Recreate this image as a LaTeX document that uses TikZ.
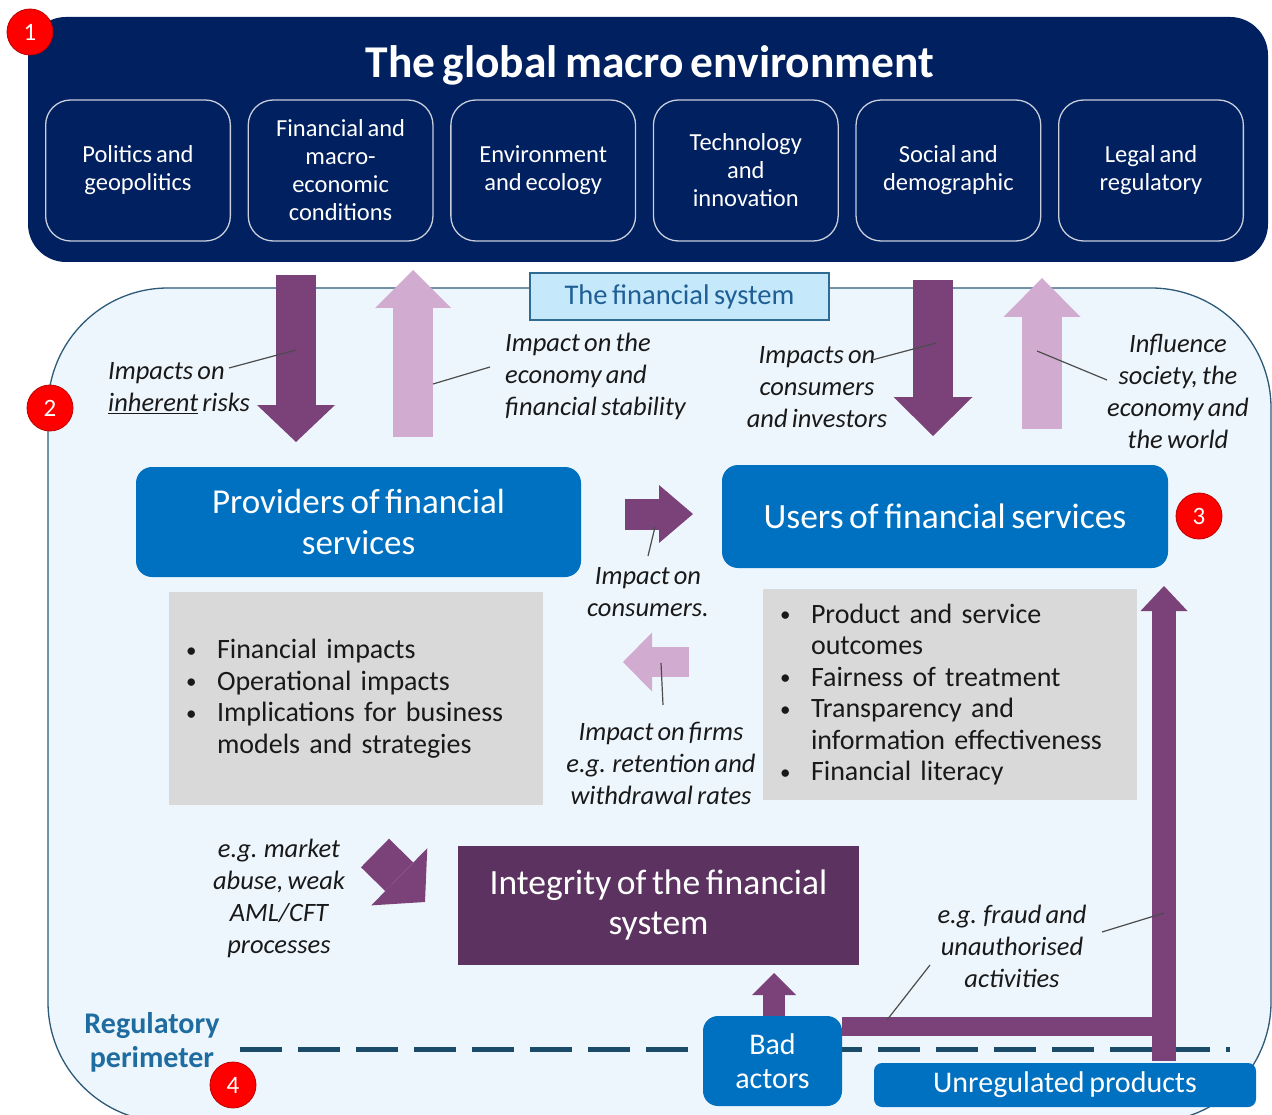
\documentclass[tikz,border=0pt]{standalone}
\usepackage{fontspec}
\setmainfont{Carlito}[WordSpace=0.7]
\usetikzlibrary{arrows.meta,positioning}
\definecolor{envNavy}{HTML}{002060}
\definecolor{cardLine}{HTML}{C9CEDA}
\definecolor{boxBlue}{HTML}{0070C0}
\definecolor{plumDark}{HTML}{7B4279}
\definecolor{plumLight}{HTML}{D2ACD0}
\definecolor{integrityPlum}{HTML}{5C3260}
\definecolor{sysFill}{HTML}{EEF6FD}
\definecolor{sysLine}{HTML}{2D5A78}
\definecolor{tagFill}{HTML}{C5E8FA}
\definecolor{tagLine}{HTML}{2F6B92}
\definecolor{tagText}{HTML}{1F5F95}
\definecolor{boxGray}{HTML}{D9D9D9}
\definecolor{perimBlue}{HTML}{1F6CA0}
\definecolor{dashTeal}{HTML}{1A4C69}
\definecolor{badgeRed}{HTML}{FF0000}
\newcommand{\bitem}[1]{\makebox[31pt][l]{\raisebox{1.5pt}{\scalebox{0.75}{\textbullet}}}#1}
\newcommand{\bcont}[1]{\hspace*{31pt}#1}

\begin{document}
\begin{tikzpicture}[x=1pt,y=-1pt,
    node distance=16.6pt,
    envcard/.style={rectangle, rounded corners=25pt, draw=cardLine, line width=1.3pt,
      text=white, align=center, font=\fontsize{24.5}{28}\selectfont,
      minimum width=184.7pt, minimum height=141pt, inner sep=2pt},
    bluebox/.style={rectangle, rounded corners=16pt, fill=boxBlue, text=white, align=center, inner sep=2pt},
    graybox/.style={rectangle, fill=boxGray, align=left, text width=340pt, inner xsep=17pt,
      font=\fontsize{28}{31.5}\selectfont, text=black!90},
    badge/.style={circle, fill=badgeRed, draw=badgeRed!75!black, line width=0.8pt, text=white,
      font=\fontsize{25}{25}\selectfont, minimum size=46pt, inner sep=0pt},
    note/.style={align=center, font=\fontsize{26.5}{32}\selectfont\itshape, text=black!90, inner sep=0pt},
    leader/.style={draw=black!70, line width=1.2pt},
    fatarrow/.style n args={3}{line width=#1, -{Triangle[width=#2, length=#3, line width=0pt]}}
  ]
  \useasboundingbox (0,0) rectangle (1272,1115);
  \fill[white] (0,0) rectangle (1272,1115);

  % the financial system
  \draw[draw=sysLine, fill=sysFill, line width=1.3pt, rounded corners=120pt] (48,288) rectangle (1271,1122);
  \node[rectangle, fill=tagFill, draw=tagLine, line width=1.3pt, minimum width=299pt, minimum height=47pt,
    text=tagText, font=\fontsize{28.5}{28.5}\selectfont] (tag) at (679.5,296.5) {The financial system};

  % global macro environment
  \fill[envNavy, rounded corners=38pt] (28,17) rectangle (1268,262);
  \node[text=white, font=\fontsize{45.5}{45.5}\selectfont\bfseries] (title) at (650,65) {The global macro environment};
  \node[envcard] (c1) at (138,170.5) {Politics and\\geopolitics};
  \node[envcard, right=of c1] (c2) {Financial and\\macro-\\economic\\conditions};
  \node[envcard, right=of c2] (c3) {Environment\\and ecology};
  \node[envcard, right=of c3] (c4) {Technology\\and\\innovation};
  \node[envcard, right=of c4] (c5) {Social and\\demographic};
  \node[envcard, right=of c5] (c6) {Legal and\\regulatory};

  % big vertical arrows
  \coordinate (dA0) at (296,275);  \coordinate (dA1) at (296,442);
  \coordinate (uA0) at (413,437);  \coordinate (uA1) at (413,270);
  \coordinate (dB0) at (933,280);  \coordinate (dB1) at (933,436);
  \coordinate (uB0) at (1042,429); \coordinate (uB1) at (1042,278);
  \draw[plumDark, fatarrow={40pt}{78pt}{37pt}] (dA0) -- (dA1);
  \draw[plumLight, fatarrow={40pt}{76pt}{38pt}] (uA0) -- (uA1);
  \draw[plumDark, fatarrow={40pt}{79pt}{39pt}] (dB0) -- (dB1);
  \draw[plumLight, fatarrow={40pt}{77pt}{39pt}] (uB0) -- (uB1);

  \node[note, align=left, anchor=west] (risks) at (108,388) {Impacts on\\\underline{inherent} risks};
  \node[note, align=left, anchor=west] (economy) at (505,376) {Impact on the\\economy and\\financial stability};
  \node[note] (investors) at (817,387) {Impacts on\\consumers\\and investors};
  \node[note] (society) at (1178,391) {Influence\\society, the\\economy and\\the world};
  \draw[leader] (229,368) -- (296,350);
  \draw[leader] (490,367) -- (433,384);
  \draw[leader] (872,360) -- (936,343);
  \draw[leader] (1107,380) -- (1037,351);

  % providers and users
  \node[bluebox, minimum width=445pt, minimum height=110pt, font=\fontsize{35}{41}\selectfont] (prov) at (358.5,522) {Providers of financial\\services};
  \node[bluebox, minimum width=446pt, minimum height=103pt, font=\fontsize{35.5}{41}\selectfont] (users) at (945,516.5) {Users of financial services};

  \coordinate (rA0) at (625,514); \coordinate (rA1) at (693,514);
  \coordinate (lA0) at (689,662); \coordinate (lA1) at (623,662);
  \draw[plumDark, fatarrow={31pt}{58pt}{34pt}] (rA0) -- (rA1);
  \draw[plumLight, fatarrow={30pt}{59pt}{29pt}] (lA0) -- (lA1);
  \node[note] (onconsumers) at (648,592) {Impact on\\consumers.};
  \node[note] (onfirms) at (661,763) {Impact on firms\\e.g. retention and\\withdrawal rates};
  \draw[leader] (648,556) -- (655,527);
  \draw[leader] (663,705) -- (661,663);

  % impact lists
  \node[graybox, minimum width=374pt, minimum height=213pt] (firmlist) at (356,698.5)
    {\bitem{Financial impacts}\\\bitem{Operational impacts}\\\bitem{Implications for business}\\\bcont{models and strategies}};
  \node[graybox, minimum width=374pt, minimum height=211pt] (userlist) at (950,694.5)
    {\bitem{Product and service}\\\bcont{outcomes}\\\bitem{Fairness of treatment}\\\bitem{Transparency and}\\\bcont{information effectiveness}\\\bitem{Financial literacy}};

  % regulatory perimeter
  \draw[dashTeal, line width=5pt, dash pattern=on 42pt off 16pt] (240,1049) -- (1230,1049);
  \node[text=perimBlue, align=center, font=\fontsize{30}{34}\selectfont\bfseries] (perim) at (152,1042) {Regulatory\\perimeter};

  % integrity
  \node[rectangle, fill=integrityPlum, text=white, align=center, minimum width=401pt, minimum height=119pt,
    font=\fontsize{35.5}{40}\selectfont] (integrity) at (658.5,905.5) {Integrity of the financial\\system};
  \coordinate (gA0) at (375,853); \coordinate (gA1) at (425,902);
  \draw[plumDark, fatarrow={40pt}{80pt}{36pt}] (gA0) -- (gA1);
  \node[note] (abuse) at (279,898) {e.g. market\\abuse, weak\\AML/CFT\\processes};

  % bad actors and unregulated products
  \node[bluebox, rounded corners=15pt, minimum width=139pt, minimum height=90pt,
    font=\fontsize{30}{34}\selectfont] (bad) at (772.5,1061) {Bad\\actors};
  \node[bluebox, rounded corners=8pt, minimum width=382pt, minimum height=44pt,
    font=\fontsize{30}{30}\selectfont] (unreg) at (1065,1085) {Unregulated products};
  \coordinate (badTip) at (774,973);
  \draw[plumDark, fatarrow={22pt}{44pt}{22pt}] (bad.north -| badTip) -- (badTip);
  \coordinate (lBend) at (1176,1026);
  \coordinate (lFoot) at (1164,1061);
  \coordinate (lTip) at (1164,586);
  \draw[plumDark, line width=19pt] (bad.east |- lBend) -- (lBend);
  \draw[plumDark, fatarrow={24pt}{47pt}{25pt}] (lFoot) -- (lTip);
  \node[note] (fraud) at (1012,946) {e.g. fraud and\\unauthorised\\activities};
  \draw[leader] (1102,932) -- (1164,913);
  \draw[leader] (930,965) -- (887,1020);

  % badges
  \node[badge] (n1) at (30,32) {1};
  \node[badge] (n2) at (50,408) {2};
  \node[badge] (n3) at (1199,516) {3};
  \node[badge] (n4) at (233,1085) {4};
\end{tikzpicture}
\end{document}
